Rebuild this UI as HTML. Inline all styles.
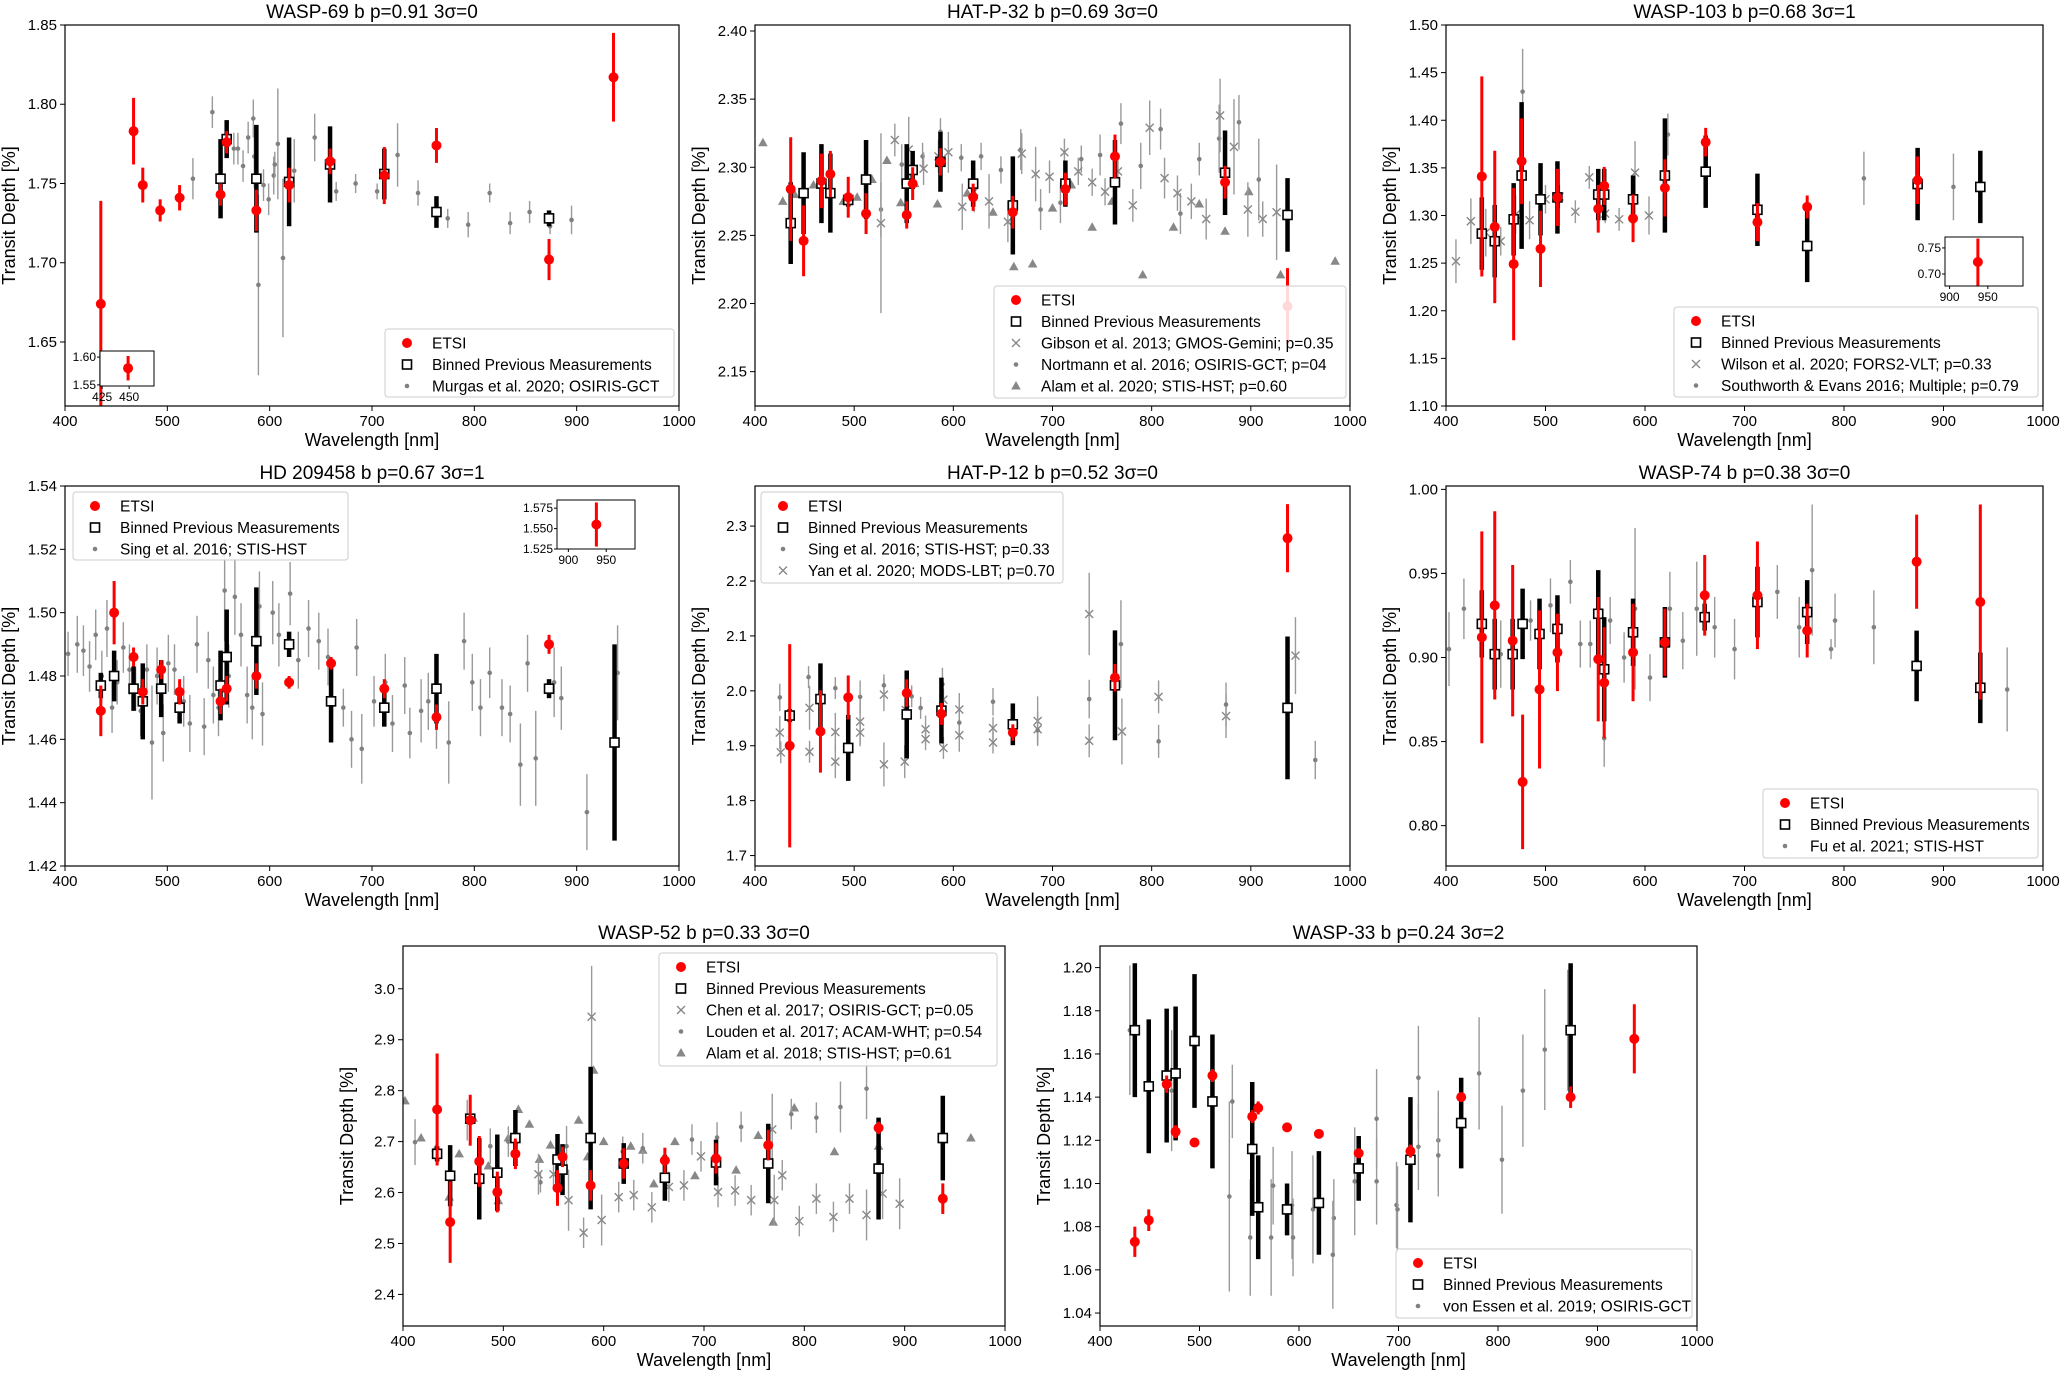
<!DOCTYPE html>
<html><head><meta charset="utf-8"><style>
html,body{margin:0;padding:0;background:#fff;}
svg{display:block;font-family:"Liberation Sans",sans-serif;}
</style></head><body>
<svg id="fig" width="2065" height="1373" viewBox="0 0 2065 1373" xmlns="http://www.w3.org/2000/svg"></svg>
<script>
// ===== DATA: [wavelength nm, transit depth %, error] =====
const wasp69Etsi=[[435,1.674,0.065],[467,1.783,0.021],[476,1.749,0.011],[493,1.733,0.007],[512,1.741,0.008],[552,1.743,0.007],[558,1.776,0.007],[587,1.733,0.013],[619,1.749,0.011],[659,1.764,0.008],[712,1.755,0.018],[763,1.774,0.011],[873,1.702,0.013],[936,1.817,0.028]];
const wasp69Binned=[[552,1.753,0.025],[558,1.778,0.012],[587,1.753,0.034],[619,1.751,0.028],[659,1.762,0.024],[712,1.756,0.016],[763,1.732,0.01],[873,1.728,0.005]];
const wasp69Murgas=[[525,1.753,0.013],[544,1.795,0.01],[565,1.772,0.01],[569,1.772,0.01],[574,1.761,0.01],[579,1.779,0.01],[584,1.791,0.012],[585,1.767,0.02],[589,1.686,0.057],[594,1.749,0.01],[599,1.740,0.01],[604,1.755,0.012],[605,1.762,0.008],[608,1.775,0.035],[613,1.703,0.05],[624,1.758,0.02],[644,1.779,0.015],[665,1.745,0.006],[684,1.750,0.006],[705,1.745,0.005],[725,1.768,0.02],[745,1.744,0.008],[774,1.728,0.006],[794,1.724,0.008],[815,1.744,0.006],[835,1.725,0.007],[854,1.732,0.007],[874,1.723,0.005],[895,1.727,0.009]];
const wasp69Inset=[[449,1.58,0.022]];

const hatp32Etsi=[[436,2.284,0.038],[449,2.246,0.026],[467,2.29,0.02],[476,2.295,0.017],[494,2.278,0.015],[512,2.266,0.015],[553,2.265,0.01],[559,2.288,0.012],[587,2.304,0.01],[620,2.278,0.01],[660,2.267,0.012],[713,2.284,0.012],[763,2.308,0.016],[874,2.289,0.012],[937,2.198,0.028]];
const hatp32Binned=[[436,2.259,0.03],[449,2.281,0.03],[467,2.288,0.029],[476,2.281,0.029],[494,2.276,0.005],[512,2.291,0.029],[553,2.288,0.029],[559,2.298,0.014],[587,2.304,0.022],[620,2.288,0.017],[660,2.272,0.036],[713,2.288,0.017],[763,2.289,0.031],[874,2.296,0.031],[937,2.265,0.027]];
const hatp32Gibson=[[527,2.259,0.066],[541,2.320,0.012],[555,2.313,0.024],[570,2.299,0.012],[585,2.308,0.012],[595,2.311,0.015],[609,2.271,0.017],[621,2.282,0.015],[636,2.275,0.02],[655,2.260,0.015],[669,2.310,0.015],[683,2.295,0.02],[697,2.293,0.012],[712,2.311,0.01],[726,2.297,0.01],[740,2.289,0.01],[753,2.282,0.01],[766,2.297,0.012],[781,2.272,0.012],[798,2.329,0.02],[813,2.292,0.015],[826,2.281,0.013],[840,2.275,0.013],[855,2.262,0.015],[869,2.338,0.027],[883,2.315,0.035],[897,2.269,0.02],[912,2.262,0.013],[926,2.267,0.035]];
const hatp32Nortmann=[[527,2.269,0.02],[548,2.302,0.015],[569,2.308,0.01],[587,2.326,0.01],[608,2.307,0.01],[628,2.308,0.01],[648,2.298,0.01],[668,2.313,0.015],[688,2.269,0.015],[708,2.274,0.015],[729,2.306,0.01],[748,2.309,0.015],[769,2.332,0.015],[789,2.301,0.017],[809,2.328,0.015],[829,2.266,0.015],[848,2.306,0.012],[868,2.321,0.025],[888,2.333,0.02],[908,2.291,0.03]];
const hatp32Alam=[[408,2.318,0],[428,2.275,0],[440,2.28,0],[459,2.287,0],[475,2.28,0],[489,2.275,0],[503,2.278,0],[518,2.291,0],[533,2.305,0],[547,2.274,0],[561,2.288,0],[584,2.273,0],[614,2.281,0],[640,2.267,0],[661,2.227,0],[680,2.229,0],[700,2.27,0],[719,2.287,0],[740,2.256,0],[760,2.275,0],[791,2.221,0],[822,2.256,0],[848,2.273,0],[874,2.253,0],[898,2.282,0],[930,2.221,0],[985,2.231,0]];

const wasp103Etsi=[[436,1.341,0.105],[449,1.288,0.08],[468,1.249,0.08],[476,1.357,0.045],[495,1.265,0.04],[512,1.319,0.03],[553,1.307,0.025],[559,1.331,0.02],[588,1.297,0.025],[620,1.329,0.03],[661,1.377,0.015],[713,1.293,0.02],[763,1.309,0.012],[874,1.337,0.025]];
const wasp103Binned=[[436,1.281,0.038],[449,1.273,0.038],[468,1.296,0.038],[476,1.342,0.077],[495,1.317,0.038],[512,1.319,0.038],[553,1.322,0.027],[559,1.322,0.027],[588,1.317,0.025],[620,1.342,0.06],[661,1.346,0.038],[713,1.306,0.038],[763,1.268,0.038],[874,1.333,0.038],[937,1.330,0.038]];
const wasp103Wilson=[[410,1.252,0.023],[425,1.294,0.024],[440,1.282,0.025],[455,1.273,0.015],[470,1.301,0.02],[484,1.295,0.02],[500,1.317,0.015],[514,1.32,0.012],[530,1.304,0.012],[544,1.34,0.012],[560,1.302,0.01],[574,1.296,0.012],[590,1.345,0.033],[604,1.3,0.02]];
const wasp103Southworth=[[477,1.43,0.045],[623,1.385,0.022],[820,1.339,0.028],[910,1.33,0.035]];
const wasp103Inset=[[937,0.723,0.045]];

const hd209Etsi=[[435,1.469,0.008],[448,1.500,0.01],[467,1.486,0.003],[476,1.475,0.004],[494,1.482,0.003],[512,1.475,0.004],[552,1.472,0.004],[558,1.476,0.004],[587,1.480,0.004],[619,1.478,0.002],[660,1.484,0.002],[712,1.476,0.003],[763,1.467,0.004],[873,1.490,0.003]];
const hd209Binned=[[435,1.477,0.004],[448,1.480,0.008],[467,1.476,0.007],[476,1.472,0.012],[494,1.476,0.009],[512,1.470,0.005],[552,1.477,0.011],[558,1.486,0.015],[587,1.491,0.017],[619,1.490,0.004],[660,1.472,0.013],[712,1.470,0.006],[763,1.476,0.011],[873,1.476,0.003],[937,1.459,0.031]];
const hd209Sing=[[403,1.487,0.007],[412,1.490,0.009],[418,1.488,0.008],[424,1.483,0.008],[430,1.493,0.008],[436,1.480,0.008],[441,1.495,0.009],[446,1.470,0.008],[451,1.478,0.007],[457,1.489,0.008],[463,1.482,0.008],[469,1.476,0.007],[474,1.469,0.008],[480,1.482,0.008],[485,1.459,0.018],[490,1.480,0.009],[496,1.462,0.009],[501,1.484,0.009],[507,1.482,0.008],[516,1.472,0.008],[522,1.465,0.009],[529,1.490,0.009],[536,1.464,0.009],[540,1.485,0.009],[545,1.474,0.009],[550,1.470,0.009],[556,1.507,0.016],[560,1.480,0.01],[566,1.505,0.012],[572,1.493,0.01],[578,1.474,0.009],[583,1.470,0.01],[590,1.502,0.011],[593,1.468,0.01],[603,1.500,0.01],[609,1.493,0.01],[620,1.506,0.01],[628,1.485,0.009],[638,1.495,0.009],[648,1.491,0.009],[657,1.486,0.009],[672,1.470,0.006],[680,1.460,0.009],[685,1.489,0.009],[690,1.457,0.011],[702,1.472,0.008],[713,1.478,0.009],[720,1.465,0.009],[732,1.477,0.009],[737,1.462,0.008],[748,1.469,0.01],[755,1.472,0.009],[763,1.466,0.009],[775,1.459,0.013],[790,1.491,0.009],[798,1.478,0.009],[806,1.470,0.009],[815,1.481,0.008],[827,1.470,0.009],[835,1.468,0.009],[845,1.452,0.013],[852,1.484,0.009],[860,1.454,0.015],[878,1.478,0.011],[885,1.473,0.01],[910,1.437,0.012],[940,1.481,0.015]];
const hd209Inset=[[937,1.555,0.027]];

const hatp12Etsi=[[435,1.900,0.185],[466,1.926,0.075],[494,1.988,0.04],[553,1.996,0.025],[588,1.958,0.02],[660,1.924,0.015],[763,2.024,0.025],[937,2.278,0.062]];
const hatp12Binned=[[435,1.955,0.012],[466,1.985,0.065],[494,1.896,0.06],[553,1.957,0.08],[588,1.964,0.06],[660,1.939,0.038],[763,2.010,0.1],[937,1.969,0.13]];
const hatp12Sing=[[425,1.988,0.025],[454,2.025,0.02],[481,2.005,0.02],[506,1.989,0.03],[530,2.010,0.02],[558,1.990,0.02],[567,1.969,0.02],[589,2.012,0.03],[606,1.942,0.02],[640,1.980,0.025],[685,1.928,0.02],[737,1.985,0.035],[769,2.085,0.08],[807,1.908,0.03],[875,1.975,0.04],[965,1.874,0.035]];
const hatp12Yan=[[425,1.924,0.03],[426,1.888,0.02],[455,1.969,0.04],[455,1.889,0.02],[481,1.925,0.035],[481,1.871,0.03],[506,1.944,0.04],[506,1.924,0.025],[530,1.993,0.03],[530,1.866,0.04],[551,1.871,0.03],[552,1.965,0.02],[572,1.930,0.025],[572,1.912,0.02],[590,1.984,0.02],[590,1.896,0.02],[606,1.966,0.03],[606,1.919,0.03],[640,1.932,0.02],[640,1.906,0.02],[685,1.945,0.045],[685,1.930,0.03],[737,2.140,0.075],[737,1.909,0.03],[770,1.926,0.06],[807,1.989,0.03],[875,1.954,0.04],[945,2.064,0.07]];

const wasp74Etsi=[[436,0.912,0.063],[449,0.931,0.056],[467,0.910,0.045],[477,0.826,0.04],[494,0.881,0.047],[512,0.903,0.023],[553,0.899,0.037],[559,0.885,0.033],[588,0.903,0.029],[620,0.909,0.02],[660,0.937,0.024],[713,0.937,0.032],[763,0.916,0.016],[873,0.957,0.028],[937,0.933,0.058]];
const wasp74Binned=[[436,0.920,0.02],[449,0.902,0.021],[467,0.902,0.021],[477,0.920,0.021],[494,0.914,0.021],[512,0.917,0.02],[553,0.926,0.026],[559,0.893,0.031],[588,0.915,0.02],[620,0.909,0.021],[660,0.924,0.008],[713,0.933,0.021],[763,0.927,0.019],[873,0.895,0.021],[937,0.882,0.021]];
const wasp74Fu=[[403,0.905,0.022],[418,0.929,0.018],[455,0.902,0.02],[485,0.922,0.012],[505,0.931,0.016],[525,0.945,0.013],[535,0.908,0.014],[545,0.908,0.014],[559,0.852,0.017],[565,0.922,0.014],[579,0.900,0.015],[590,0.929,0.048],[605,0.888,0.014],[625,0.929,0.022],[638,0.910,0.017],[652,0.929,0.028],[670,0.918,0.018],[690,0.905,0.018],[733,0.939,0.016],[755,0.918,0.018],[768,0.952,0.039],[787,0.905,0.006],[791,0.922,0.016],[830,0.918,0.022],[964,0.881,0.025]];

const wasp52Etsi=[[434,2.763,0.11],[447,2.542,0.08],[467,2.742,0.05],[476,2.661,0.05],[494,2.601,0.04],[512,2.676,0.03],[554,2.609,0.035],[559,2.670,0.02],[587,2.614,0.03],[620,2.657,0.03],[661,2.663,0.025],[712,2.667,0.03],[764,2.693,0.03],[874,2.727,0.012],[938,2.588,0.03]];
const wasp52Binned=[[434,2.676,0.015],[447,2.633,0.06],[467,2.745,0.01],[476,2.627,0.08],[494,2.639,0.075],[512,2.707,0.055],[554,2.665,0.05],[559,2.645,0.05],[587,2.707,0.14],[620,2.657,0.04],[661,2.629,0.045],[712,2.659,0.045],[764,2.657,0.078],[874,2.647,0.1],[938,2.707,0.083]];
const wasp52Chen=[[535,2.636,0.04],[550,2.636,0.03],[565,2.585,0.06],[580,2.521,0.03],[588,2.945,0.1],[598,2.546,0.05],[615,2.591,0.03],[630,2.595,0.03],[648,2.571,0.03],[665,2.611,0.03],[680,2.614,0.03],[697,2.671,0.03],[714,2.601,0.03],[731,2.604,0.03],[747,2.585,0.03],[768,2.724,0.07],[770,2.585,0.05],[778,2.634,0.03],[795,2.544,0.03],[812,2.588,0.03],[829,2.552,0.03],[845,2.588,0.03],[862,2.556,0.05],[878,2.598,0.05],[895,2.578,0.05]];
const wasp52Louden=[[412,2.699,0.045],[464,2.742,0.04],[487,2.691,0.035],[505,2.70,0.03],[537,2.620,0.02],[563,2.691,0.04],[619,2.680,0.03],[639,2.687,0.03],[688,2.704,0.03],[713,2.708,0.03],[737,2.729,0.03],[787,2.754,0.03],[812,2.747,0.03],[836,2.768,0.05],[862,2.804,0.06]];
const wasp52Alam=[[402,2.78,0],[418,2.707,0],[433,2.687,0],[446,2.591,0],[456,2.676,0],[470,2.746,0],[485,2.652,0],[495,2.584,0],[505,2.707,0],[515,2.763,0],[526,2.734,0],[536,2.665,0],[547,2.693,0],[557,2.61,0],[575,2.742,0],[584,2.670,0],[590,2.840,0],[600,2.700,0],[619,2.660,0],[627,2.691,0],[639,2.683,0],[650,2.617,0],[671,2.700,0],[691,2.633,0],[711,2.660,0],[732,2.644,0],[754,2.712,0],[769,2.542,0],[790,2.766,0],[830,2.680,0],[874,2.691,0],[966,2.707,0]];

const wasp33Etsi=[[435,1.073,0.007],[449,1.083,0.005],[467,1.146,0.004],[476,1.124,0.003],[495,1.119,0.002],[513,1.150,0.003],[553,1.131,0.003],[559,1.135,0.003],[588,1.126,0.002],[620,1.123,0.002],[660,1.114,0.002],[712,1.115,0.003],[763,1.140,0.002],[873,1.140,0.005],[937,1.167,0.016]];
const wasp33Binned=[[435,1.171,0.031],[449,1.145,0.031],[467,1.150,0.031],[476,1.151,0.031],[495,1.166,0.031],[513,1.138,0.031],[553,1.116,0.031],[559,1.089,0.024],[588,1.088,0.012],[620,1.091,0.024],[660,1.107,0.015],[712,1.111,0.029],[763,1.128,0.021],[873,1.171,0.031]];
const wasp33Essen=[[430,1.171,0.03],[450,1.145,0.025],[467,1.150,0.03],[472,1.143,0.028],[530,1.094,0.044],[533,1.138,0.017],[551,1.075,0.027],[572,1.075,0.027],[574,1.099,0.018],[593,1.090,0.025],[594,1.075,0.018],[614,1.088,0.025],[635,1.084,0.018],[634,1.067,0.025],[656,1.101,0.025],[678,1.130,0.023],[678,1.101,0.02],[698,1.090,0.02],[699,1.088,0.02],[720,1.149,0.024],[720,1.117,0.02],[740,1.120,0.023],[740,1.113,0.019],[781,1.151,0.026],[804,1.111,0.025],[825,1.143,0.026],[847,1.162,0.028],[870,1.171,0.028]];

// tick labels
const xTicks=[400,500,600,700,800,900,1000];
const wasp69YTicks=["1.65","1.70","1.75","1.80","1.85"];
const hatp32YTicks=["2.15","2.20","2.25","2.30","2.35","2.40"];
const wasp103YTicks=["1.10","1.15","1.20","1.25","1.30","1.35","1.40","1.45","1.50"];
const hd209YTicks=["1.42","1.44","1.46","1.48","1.50","1.52","1.54"];
const hatp12YTicks=["1.7","1.8","1.9","2.0","2.1","2.2","2.3"];
const wasp74YTicks=["0.80","0.85","0.90","0.95","1.00"];
const wasp52YTicks=["2.4","2.5","2.6","2.7","2.8","2.9","3.0"];
const wasp33YTicks=["1.04","1.06","1.08","1.10","1.12","1.14","1.16","1.18","1.20"];

// ===== RENDERING =====
const NS="http://www.w3.org/2000/svg";
const fig=document.getElementById('fig');
let clipId=0;
function mk(tag,attrs,parent){const e=document.createElementNS(NS,tag);for(const k in attrs)e.setAttribute(k,attrs[k]);(parent||fig).appendChild(e);return e;}
function txt(s,attrs,parent){const e=mk('text',attrs,parent);e.textContent=s;return e;}

function marker(kind,cx,cy,g){
  let e;
  if(kind==='etsi'){e=mk('circle',{cx:cx,cy:cy,r:5,fill:'#f00'},g);}
  else if(kind==='binned'){e=mk('rect',{x:cx-4.5,y:cy-4.5,width:9,height:9,fill:'#fff',stroke:'#000','stroke-width':1.6},g);}
  else if(kind==='dot'){e=mk('circle',{cx:cx,cy:cy,r:2.3,fill:'#808080'},g);}
  else if(kind==='x'){e=mk('path',{d:`M${cx-4},${cy-4}L${cx+4},${cy+4}M${cx-4},${cy+4}L${cx+4},${cy-4}`,stroke:'#888','stroke-width':1.4,fill:'none'},g);}
  else {e=mk('path',{d:`M${cx},${cy-5}L${cx+4.8},${cy+3.5}L${cx-4.8},${cy+3.5}Z`,fill:'#888'},g);}
  return e;
}
const errStyle={etsi:['#f00',3],binned:['#000',4.5],dot:['#999',1.4],x:['#999',1.4],tri:['#999',1.4]};

function series(P,data,kind,g){
  data.forEach(d=>{
    const cx=P.sx(d[0]),cy=P.sy(d[1]);
    if(d[2]>0){
      const l=mk('line',{x1:cx,x2:cx,y1:P.sy(d[1]+d[2]),y2:P.sy(d[1]-d[2]),stroke:errStyle[kind][0],'stroke-width':errStyle[kind][1]},g);
      
      
    }
    const m=marker(kind,cx,cy,g);
    
    
  });
}

function panel(c){
  const g=mk('g',{});
  
  
  const P={sx:w=>c.x0+(w-400)/600*(c.x1-c.x0),sy:v=>c.y1-(v-c.ymin)/(c.ymax-c.ymin)*(c.y1-c.y0)};
  const id='clip'+(clipId++);
  const cp=mk('clipPath',{id:id},g);mk('rect',{x:c.x0,y:c.y0,width:c.x1-c.x0,height:c.y1-c.y0},cp);
  const t=txt(c.title,{x:(c.x0+c.x1)/2,y:c.y0-7,'text-anchor':'middle','font-size':19,fill:'#000'},g);
  
  
  xTicks.forEach(v=>{const x=P.sx(v);mk('line',{x1:x,x2:x,y1:c.y1,y2:c.y1+5,stroke:'#000','stroke-width':1},g);
    const tl=txt(String(v),{x:x,y:c.y1+20,'text-anchor':'middle','font-size':15},g);
    
    });
  c.yticks.forEach(s=>{const y=P.sy(parseFloat(s));mk('line',{x1:c.x0-5,x2:c.x0,y1:y,y2:y,stroke:'#000','stroke-width':1},g);
    const tl=txt(s,{x:c.x0-8,y:y+5,'text-anchor':'end','font-size':15},g);
    
    });
  const xl=txt('Wavelength [nm]',{x:(c.x0+c.x1)/2,y:c.y1+40,'text-anchor':'middle','font-size':18},g);
  
  
  const yc=(c.y0+c.y1)/2, yx=c.x0-50;
  const yl=txt('Transit Depth [%]',{x:yx,y:yc,'text-anchor':'middle','font-size':18,transform:`rotate(-90 ${yx} ${yc})`},g);
  
  
  const pg=mk('g',{'clip-path':`url(#${id})`},g);
  
  
  c.series.forEach(s=>series(P,s[0],s[1],pg));
  const fr=mk('rect',{x:c.x0,y:c.y0,width:c.x1-c.x0,height:c.y1-c.y0,fill:'none',stroke:'#000','stroke-width':1.2},g);
  
  
  const L=c.legend;
  const lg=mk('g',{},g);
  
  
  mk('rect',{x:L.x,y:L.y,width:L.w,height:L.h,rx:3,fill:'#fff','fill-opacity':0.85,stroke:'#ccc','stroke-width':1},lg);
  L.entries.forEach((e,i)=>{
    const cy=L.y+14+i*21.5;
    const m=marker(e[0],L.x+22,cy,lg);
    
    
    const lt=txt(e[1],{x:L.x+47,y:cy+5.5,'font-size':15.5},lg);
    
    
  });
  if(c.inset){
    const I=c.inset;
    const ig=mk('g',{},g);
    
    
    const IP={sx:w=>I.x0+(w-I.wmin)/(I.wmax-I.wmin)*(I.x1-I.x0),sy:v=>I.y1-(v-I.ymin)/(I.ymax-I.ymin)*(I.y1-I.y0)};
    mk('rect',{x:I.x0,y:I.y0,width:I.x1-I.x0,height:I.y1-I.y0,fill:'#fff',stroke:'#000','stroke-width':1},ig);
    I.xt.forEach(v=>{const x=IP.sx(v);mk('line',{x1:x,x2:x,y1:I.y1,y2:I.y1+3,stroke:'#000'},ig);
      const tl=txt(String(v),{x:x,y:I.y1+15,'text-anchor':'middle','font-size':12},ig);
      
      });
    I.yt.forEach(s=>{const y=IP.sy(parseFloat(s));mk('line',{x1:I.x0-3,x2:I.x0,y1:y,y2:y,stroke:'#000'},ig);
      const tl=txt(s,{x:I.x0-4,y:y+4,'text-anchor':'end','font-size':12},ig);
      
      });
    series(IP,I.data,'etsi',ig);
  }
}
const E=['etsi','ETSI'],B=['binned','Binned Previous Measurements'];
const R1=[25,406],R2=[486,866],R3=[946,1326];
const C1=[65,679],C2=[755,1350],C3=[1446,2043];

panel({name:'wasp-69-panel',title:'WASP-69 b p=0.91 3σ=0',x0:C1[0],x1:C1[1],y0:R1[0],y1:R1[1],ymin:1.6096,ymax:1.85,yticks:wasp69YTicks,
  series:[[wasp69Murgas,'dot'],[wasp69Binned,'binned'],[wasp69Etsi,'etsi']],
  legend:{x:385,y:329,w:289,h:68,entries:[E,B,['dot','Murgas et al. 2020; OSIRIS-GCT']]},
  inset:{x0:100,x1:154,y0:351,y1:386,wmin:423,wmax:473,ymin:1.548,ymax:1.611,xt:[425,450],yt:["1.55","1.60"],data:wasp69Inset}});
panel({name:'hat-p-32-panel',title:'HAT-P-32 b p=0.69 3σ=0',x0:C2[0],x1:C2[1],y0:R1[0],y1:R1[1],ymin:2.1248,ymax:2.4044,yticks:hatp32YTicks,
  series:[[hatp32Alam,'tri'],[hatp32Nortmann,'dot'],[hatp32Gibson,'x'],[hatp32Binned,'binned'],[hatp32Etsi,'etsi']],
  legend:{x:994,y:286,w:352,h:112,entries:[E,B,['x','Gibson et al. 2013; GMOS-Gemini; p=0.35'],['dot','Nortmann et al. 2016; OSIRIS-GCT; p=04'],['tri','Alam et al. 2020; STIS-HST; p=0.60']]},});
panel({name:'wasp-103-panel',title:'WASP-103 b p=0.68 3σ=1',x0:C3[0],x1:C3[1],y0:R1[0],y1:R1[1],ymin:1.10,ymax:1.50,yticks:wasp103YTicks,
  series:[[wasp103Southworth,'dot'],[wasp103Wilson,'x'],[wasp103Binned,'binned'],[wasp103Etsi,'etsi']],
  legend:{x:1674,y:307,w:364,h:90,entries:[E,B,['x','Wilson et al. 2020; FORS2-VLT; p=0.33'],['dot','Southworth & Evans 2016; Multiple; p=0.79']]},
  inset:{x0:1945,x1:2023,y0:237,y1:286,wmin:894,wmax:996,ymin:0.677,ymax:0.771,xt:[900,950],yt:["0.70","0.75"],data:wasp103Inset}});
panel({name:'hd-209458-panel',title:'HD 209458 b p=0.67 3σ=1',x0:C1[0],x1:C1[1],y0:R2[0],y1:R2[1],ymin:1.42,ymax:1.54,yticks:hd209YTicks,
  series:[[hd209Sing,'dot'],[hd209Binned,'binned'],[hd209Etsi,'etsi']],
  legend:{x:73,y:492,w:275,h:68,entries:[E,B,['dot','Sing et al. 2016; STIS-HST']]},
  inset:{x0:557,x1:635,y0:500,y1:549,wmin:885,wmax:988,ymin:1.525,ymax:1.585,xt:[900,950],yt:["1.525","1.550","1.575"],data:hd209Inset}});
panel({name:'hat-p-12-panel',title:'HAT-P-12 b p=0.52 3σ=0',x0:C2[0],x1:C2[1],y0:R2[0],y1:R2[1],ymin:1.681,ymax:2.373,yticks:hatp12YTicks,
  series:[[hatp12Yan,'x'],[hatp12Sing,'dot'],[hatp12Binned,'binned'],[hatp12Etsi,'etsi']],
  legend:{x:761,y:492,w:302,h:91,entries:[E,B,['dot','Sing et al. 2016; STIS-HST; p=0.33'],['x','Yan et al. 2020; MODS-LBT; p=0.70']]}});
panel({name:'wasp-74-panel',title:'WASP-74 b p=0.38 3σ=0',x0:C3[0],x1:C3[1],y0:R2[0],y1:R2[1],ymin:0.776,ymax:1.002,yticks:wasp74YTicks,
  series:[[wasp74Fu,'dot'],[wasp74Binned,'binned'],[wasp74Etsi,'etsi']],
  legend:{x:1763,y:789,w:275,h:69,entries:[E,B,['dot','Fu et al. 2021; STIS-HST']]}});
panel({name:'wasp-52-panel',title:'WASP-52 b p=0.33 3σ=0',x0:403,x1:1005,y0:R3[0],y1:R3[1],ymin:2.338,ymax:3.084,yticks:wasp52YTicks,
  series:[[wasp52Alam,'tri'],[wasp52Louden,'dot'],[wasp52Chen,'x'],[wasp52Binned,'binned'],[wasp52Etsi,'etsi']],
  legend:{x:659,y:953,w:338,h:113,entries:[E,B,['x','Chen et al. 2017; OSIRIS-GCT; p=0.05'],['dot','Louden et al. 2017; ACAM-WHT; p=0.54'],['tri','Alam et al. 2018; STIS-HST; p=0.61']]}});
panel({name:'wasp-33-panel',title:'WASP-33 b p=0.24 3σ=2',x0:1100,x1:1697,y0:R3[0],y1:R3[1],ymin:1.034,ymax:1.210,yticks:wasp33YTicks,
  series:[[wasp33Essen,'dot'],[wasp33Binned,'binned'],[wasp33Etsi,'etsi']],
  legend:{x:1396,y:1249,w:296,h:69,entries:[E,B,['dot','von Essen et al. 2019; OSIRIS-GCT']]}});
</script>
</body></html>
